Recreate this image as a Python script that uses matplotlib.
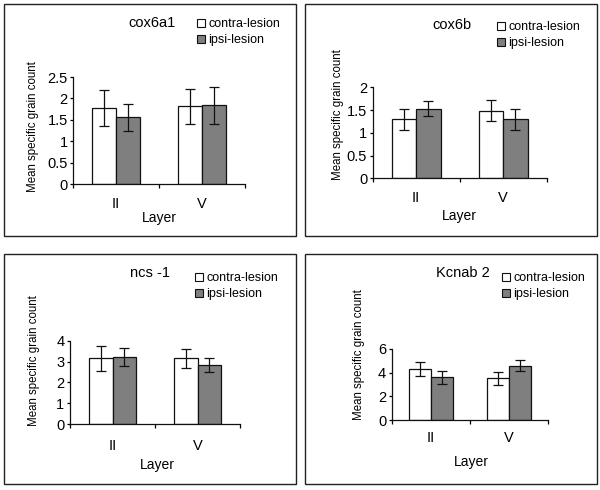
import matplotlib
matplotlib.use("Agg")
import matplotlib.pyplot as plt
from matplotlib.patches import Rectangle, Patch
import numpy as np

plt.rcParams['font.family'] = ['Liberation Sans', 'DejaVu Sans']

layers = ["II", "V"]
series = ["contra-lesion", "ipsi-lesion"]
titles = ["cox6a1", "cox6b", "ncs -1", "Kcnab 2"]

contra_vals = [[1.78, 1.82], [1.30, 1.49], [3.15, 3.15], [4.31, 3.52]]
contra_err = [[0.42, 0.41], [0.23, 0.23], [0.59, 0.45], [0.56, 0.57]]
ipsi_vals = [[1.56, 1.84], [1.53, 1.30], [3.23, 2.83], [3.61, 4.59]]
ipsi_err = [[0.31, 0.43], [0.17, 0.23], [0.43, 0.32], [0.53, 0.44]]

yticks = [[0, 0.5, 1, 1.5, 2, 2.5], [0, 0.5, 1, 1.5, 2], [0, 1, 2, 3, 4], [0, 2, 4, 6]]
ytick_labels = [["0", "0.5", "1", "1.5", "2", "2.5"], ["0", "0.5", "1", "1.5", "2"],
                ["0", "1", "2", "3", "4"], ["0", "2", "4", "6"]]

W, H = 600, 490
fig = plt.figure(figsize=(6, 4.9), dpi=100)

def fx(x):
    return x / W

def fy(y):
    return 1 - y / H

# panel layout in pixel coordinates
boxes = [(4, 4, 296, 236), (305, 4, 597, 236), (4, 254, 296, 484), (305, 254, 597, 484)]
axes_px = [(73.3, 244.7, 184, 77), (372.7, 546.7, 178.3, 87.3),
           (70, 240, 424, 340.7), (391.7, 548.3, 420, 349)]
title_px = [(152, 23), (452, 25), (150, 273), (463, 273)]
legend_px = [(197, 18), (497, 21), (195, 272), (502, 272)]
ylabel_px = [(33, 127), (337.5, 115), (34, 361), (359, 355)]
xlabel_px = [(159, 218), (459, 216), (157, 465), (471, 462)]
xtick_pad = [9, 9, 11, 8]

for x0, y0, x1, y1 in boxes:
    fig.patches.append(Rectangle((fx(x0), fy(y1)), fx(x1 - x0), (y1 - y0) / H,
                                 transform=fig.transFigure, fill=False,
                                 edgecolor="#222222", linewidth=1.0))

width = 0.28
xpos = np.arange(len(layers))
for i in range(4):
    l, r, b, t = axes_px[i]
    ax = fig.add_axes([fx(l), fy(b), fx(r - l), (b - t) / H])
    ax.bar(xpos - width / 2, contra_vals[i], width, yerr=contra_err[i],
           color="white", edgecolor="#111111", linewidth=0.9,
           error_kw=dict(ecolor="#111111", elinewidth=0.9, capsize=3.5, capthick=0.9))
    ax.bar(xpos + width / 2, ipsi_vals[i], width, yerr=ipsi_err[i],
           color="#7f7f7f", edgecolor="#111111", linewidth=0.9,
           error_kw=dict(ecolor="#111111", elinewidth=0.9, capsize=3.5, capthick=0.9))
    ax.set_xlim(-0.5, len(layers) - 0.5)
    ax.set_ylim(0, yticks[i][-1])
    for s in ["top", "right"]:
        ax.spines[s].set_visible(False)
    for s in ["left", "bottom"]:
        ax.spines[s].set_linewidth(0.9)
        ax.spines[s].set_color("#111111")
    ax.set_yticks(yticks[i])
    ax.set_yticklabels(ytick_labels[i], fontsize=10.5)
    ax.tick_params(axis="y", length=2.5, width=0.9, pad=1.5)
    ax.set_xticks([-0.5, 0.5, 1.5])
    ax.set_xticklabels([])
    ax.tick_params(axis="x", which="major", length=3, width=0.9)
    ax.set_xticks(xpos, minor=True)
    ax.set_xticklabels(layers, minor=True, fontsize=10.5)
    ax.tick_params(axis="x", which="minor", length=0, pad=xtick_pad[i])
    ax.patch.set_alpha(0)

    fig.text(fx(title_px[i][0]), fy(title_px[i][1]), titles[i], fontsize=10.5,
             ha="center", va="center")
    fig.text(fx(ylabel_px[i][0]), fy(ylabel_px[i][1]), "Mean specific grain count",
             fontsize=8.3, rotation=90, ha="center", va="center")
    fig.text(fx(xlabel_px[i][0]), fy(xlabel_px[i][1]), "Layer", fontsize=10,
             ha="center", va="center")
    handles = [Patch(facecolor="white", edgecolor="#111111", linewidth=0.8),
               Patch(facecolor="#7f7f7f", edgecolor="#111111", linewidth=0.8)]
    fig.legend(handles, series, loc="upper left",
               bbox_to_anchor=(fx(legend_px[i][0]), fy(legend_px[i][1])),
               bbox_transform=fig.transFigure, frameon=False, fontsize=9,
               handlelength=0.6, handleheight=0.6, handletextpad=0.3,
               labelspacing=0.35, borderpad=0, borderaxespad=0)

fig.savefig("out.png", dpi=100)
